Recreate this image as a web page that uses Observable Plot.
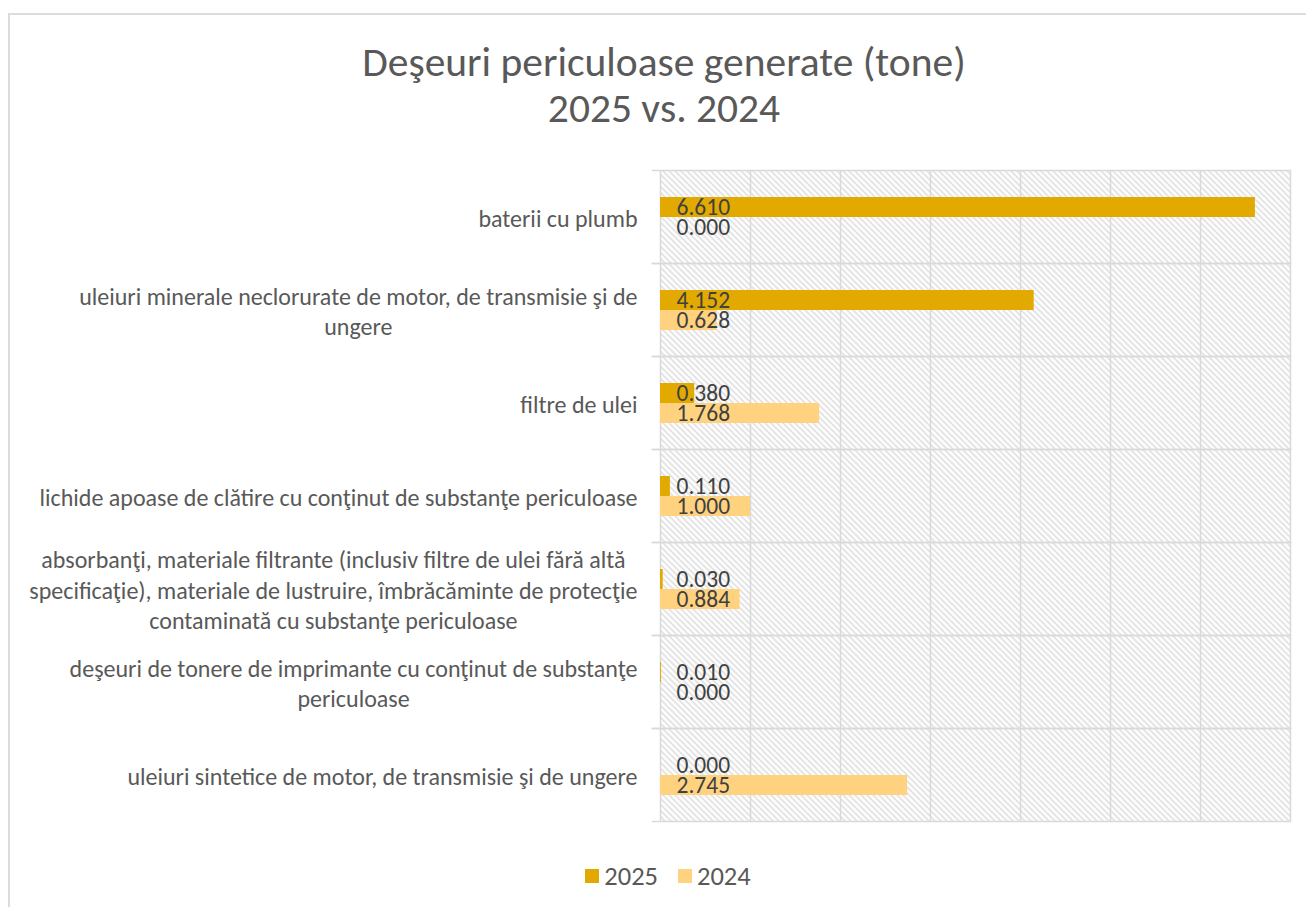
<!DOCTYPE html>
<html>
<head>
<meta charset="utf-8">
<script src="https://cdn.jsdelivr.net/npm/d3@7"></script>
<script src="https://cdn.jsdelivr.net/npm/@observablehq/plot@0.6"></script>
<style>
  html, body { margin: 0; padding: 0; background: #fff; overflow: hidden; }
  body { width: 1306px; height: 907px; position: relative; font-family: Carlito, Calibri, Lato, sans-serif; }
  #border { position: absolute; left: 8px; top: 13px; width: 1400px; height: 1000px;
            border-left: 2px solid #dcdcdc; border-top: 2px solid #dcdcdc; box-sizing: border-box; }
  #title { position: absolute; left: 0; top: 39px; width: 1328px; text-align: center;
           font-size: 41.5px; font-weight: 300; line-height: 46px; color: #595959; }
  #chart { position: absolute; left: 0; top: 150px; }
  #legend { position: absolute; left: 0; top: 859px; width: 1336px; }
</style>
</head>
<body>
<div id="border"></div>
<div id="title">Deşeuri periculoase generate (tone)<br>2025 vs. 2024</div>
<div id="chart"></div>
<div id="legend"></div>
<script>
const categories = [
  "baterii cu plumb",
  "uleiuri minerale neclorurate de motor, de transmisie şi de ungere",
  "filtre de ulei",
  "lichide apoase de clătire cu conţinut de substanţe periculoase",
  "absorbanţi, materiale filtrante (inclusiv filtre de ulei fără altă specificaţie), materiale de lustruire, îmbrăcăminte de protecţie contaminată cu substanţe periculoase",
  "deşeuri de tonere de imprimante cu conţinut de substanţe periculoase",
  "uleiuri sintetice de motor, de transmisie şi de ungere"
];
const categoryLabels = [
  "baterii cu plumb",
  "uleiuri minerale neclorurate de motor, de transmisie şi de\nungere",
  "filtre de ulei",
  "lichide apoase de clătire cu conţinut de substanţe periculoase",
  "absorbanţi, materiale filtrante (inclusiv filtre de ulei fără altă\nspecificaţie), materiale de lustruire, îmbrăcăminte de protecţie\ncontaminată cu substanţe periculoase",
  "deşeuri de tonere de imprimante cu conţinut de substanţe\npericuloase",
  "uleiuri sintetice de motor, de transmisie şi de ungere"
];
const series = ["2025", "2024"];
const values2025 = [6.610, 4.152, 0.380, 0.110, 0.030, 0.010, 0.000];
const values2024 = [0.000, 0.628, 1.768, 1.000, 0.884, 0.000, 2.745];
const colors = ["#E2AA00", "#FFD280"];
const xTicks = [0, 1, 2, 3, 4, 5, 6, 7];

const rows = [];
categories.forEach((c, i) => {
  rows.push({cat: c, series: "2025", value: values2025[i]});
  rows.push({cat: c, series: "2024", value: values2024[i]});
});
const labelOf = new Map(categories.map((c, i) => [c, categoryLabels[i]]));

const font = "Carlito, Calibri, Lato, sans-serif";
const plot = Plot.plot({
  width: 1306,
  height: 690,
  marginLeft: 660,
  marginRight: 16,
  marginTop: 20,
  marginBottom: 19,
  style: {fontFamily: font, color: "#595959", background: "transparent"},
  x: {domain: [0, 7], axis: null},
  y: {domain: series, paddingInner: 0, paddingOuter: 1.325, axis: null},
  fy: {domain: categories, padding: 0, label: null},
  color: {domain: series, range: colors},
  marks: [
    Plot.frame({fill: "url(#hatch)", stroke: null}),
    Plot.gridX(xTicks, {stroke: "#d9d9d9", strokeOpacity: 1, strokeWidth: 1.5}),
    Plot.frame({anchor: "top", stroke: "#d9d9d9", strokeWidth: 1.5, insetLeft: -8}),
    Plot.frame({anchor: "bottom", stroke: "#d9d9d9", strokeWidth: 1.5, insetLeft: -8}),
    Plot.barX(rows, {fy: "cat", y: "series", x: "value", fill: "series"}),
    Plot.text(rows, {fy: "cat", y: "series", x: 0, text: d => d.value.toFixed(3),
      textAnchor: "start", dx: 16, fill: "#404040", fontSize: 23.5}),
    Plot.axisFy({anchor: "left", tickSize: 0, tickPadding: 23, fontSize: 24, lineHeight: 1.27,
      label: null, tickFormat: d => labelOf.get(d)})
  ]
});

// hatch pattern definition
const ns = "http://www.w3.org/2000/svg";
const defs = document.createElementNS(ns, "defs");
defs.innerHTML = `<pattern id="hatch" patternUnits="userSpaceOnUse" width="6" height="6">
  <rect width="6" height="6" fill="#ffffff"/>
  <path d="M0,0 l6,6 M-1,5 l2,2 M5,-1 l2,2" stroke="#d6d6d6" stroke-width="1.3"/>
</pattern>`;
plot.insertBefore(defs, plot.firstChild);
document.getElementById("chart").appendChild(plot);

// center multi-line category labels within their block (right edge kept)
plot.querySelectorAll('g[aria-label="fy-axis tick label"] text').forEach(t => {
  const w = t.getBBox().width;
  t.setAttribute("text-anchor", "middle");
  t.setAttribute("transform", (t.getAttribute("transform") || "") + ` translate(${-w / 2},0)`);
});

const legend = Plot.legend({
  color: {domain: series, range: colors},
  swatchSize: 14,
  style: {fontFamily: font, fontSize: "26.5px", color: "#595959"}
});
legend.style.justifyContent = "center";
const items = Array.from(legend.children).filter(e => e.tagName === "SPAN");
items.forEach((s, i) => {
  s.style.marginRight = i === items.length - 1 ? "0px" : "20px";
  const sw = s.querySelector("svg");
  if (sw) sw.style.marginRight = "5px";
});
document.getElementById("legend").appendChild(legend);
</script>
</body>
</html>
